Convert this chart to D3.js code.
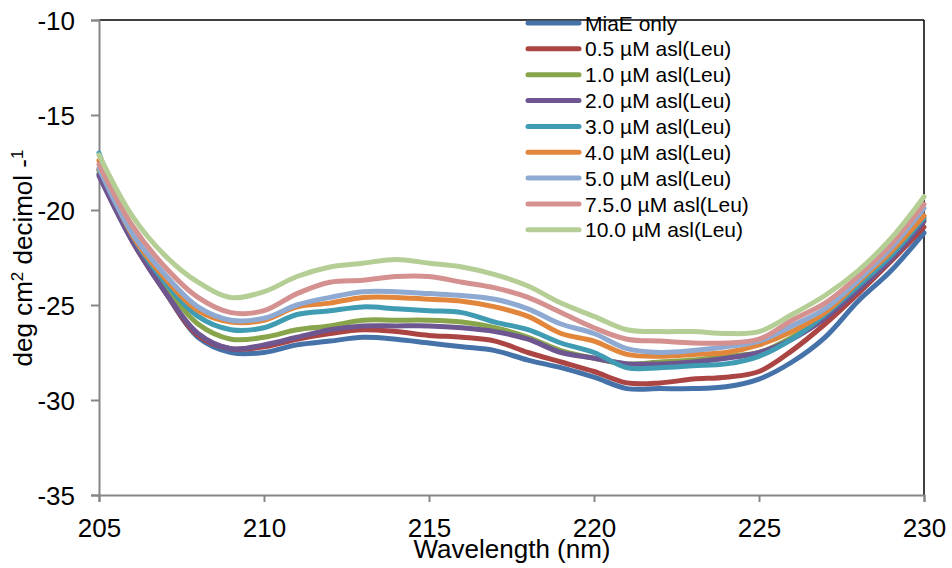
<!DOCTYPE html>
<html>
<head>
<meta charset="utf-8">
<script src="https://cdn.jsdelivr.net/npm/d3@7"></script>
<style>
  html, body { margin: 0; padding: 0; background: #fff; }
  svg { display: block; font-family: "Liberation Sans", Arial, sans-serif; }
</style>
</head>
<body>
<svg id="chart" width="952" height="568"></svg>
<script>
// ---- data ----
const wavelengths = [205,206,207,208,209,210,211,212,213,214,215,216,217,218,219,220,221,222,223,224,225,226,227,228,229,230];
const seriesNames = ["MiaE only","0.5 µM asl(Leu)","1.0 µM asl(Leu)","2.0 µM asl(Leu)","3.0 µM asl(Leu)","4.0 µM asl(Leu)","5.0 µM asl(Leu)","7.5.0 µM asl(Leu)","10.0 µM asl(Leu)"];
const seriesColors = ["#4672aa","#ab4543","#88a54b","#6e5691","#3f9cb2","#e2863b","#8eaad2","#d59190","#b5ce95"];
const miaeOnly = [-18.1,-21.6,-24.3,-26.7,-27.5,-27.5,-27.1,-26.9,-26.7,-26.8,-27.0,-27.2,-27.4,-27.9,-28.3,-28.8,-29.4,-29.4,-29.4,-29.3,-28.9,-28.0,-26.7,-24.8,-23.2,-21.2];
const leu05 = [-17.9,-21.6,-24.3,-26.6,-27.3,-27.2,-26.8,-26.5,-26.3,-26.4,-26.6,-26.7,-26.9,-27.5,-28.0,-28.5,-29.1,-29.1,-28.9,-28.8,-28.5,-27.4,-26.0,-24.4,-22.7,-20.9];
const leu10 = [-17.9,-21.5,-24.0,-26.0,-26.8,-26.7,-26.3,-26.1,-25.8,-25.8,-25.8,-25.9,-26.2,-26.7,-27.4,-27.8,-28.1,-28.0,-27.9,-27.7,-27.5,-26.7,-25.6,-24.1,-22.5,-20.5];
const leu20 = [-18.2,-21.6,-24.3,-26.5,-27.3,-27.1,-26.7,-26.3,-26.1,-26.1,-26.1,-26.2,-26.4,-26.8,-27.5,-27.8,-28.1,-28.1,-28.0,-27.8,-27.5,-26.8,-25.7,-24.2,-22.6,-20.6];
const leu30 = [-17.0,-21.3,-23.8,-25.6,-26.3,-26.2,-25.5,-25.3,-25.1,-25.2,-25.3,-25.4,-25.9,-26.3,-27.0,-27.5,-28.3,-28.3,-28.2,-28.1,-27.7,-26.8,-25.5,-24.0,-22.4,-20.4];
const leu40 = [-17.4,-21.3,-23.6,-25.3,-25.9,-25.8,-25.1,-24.9,-24.6,-24.6,-24.7,-24.8,-25.1,-25.6,-26.5,-26.9,-27.6,-27.7,-27.6,-27.5,-27.1,-26.4,-25.4,-23.8,-22.2,-20.3];
const leu50 = [-17.8,-21.2,-23.4,-25.1,-25.8,-25.7,-25.0,-24.6,-24.3,-24.3,-24.4,-24.5,-24.7,-25.2,-26.0,-26.5,-27.3,-27.5,-27.4,-27.2,-26.9,-26.1,-25.2,-23.7,-22.0,-19.9];
const leu75 = [-17.6,-20.8,-23.0,-24.6,-25.4,-25.3,-24.4,-23.8,-23.7,-23.5,-23.5,-23.8,-24.1,-24.6,-25.4,-26.2,-26.8,-26.9,-27.0,-27.0,-26.8,-25.8,-24.9,-23.5,-21.8,-19.7];
const leu100 = [-17.1,-20.3,-22.4,-23.8,-24.6,-24.3,-23.5,-23.0,-22.8,-22.6,-22.8,-23.0,-23.4,-24.0,-24.9,-25.6,-26.3,-26.4,-26.4,-26.5,-26.4,-25.5,-24.5,-23.2,-21.5,-19.3];
const seriesValues = [miaeOnly, leu05, leu10, leu20, leu30, leu40, leu50, leu75, leu100];
const xTicks = [205,210,215,220,225,230];
const yTicks = [-10,-15,-20,-25,-30,-35];
const xTitle = "Wavelength (nm)";

// ---- layout ----
const svg = d3.select("#chart");
const pL = 99, pR = 924, pT = 20, pB = 495;
const x = d3.scaleLinear().domain([205, 230]).range([pL, pR]);
const y = d3.scaleLinear().domain([-35, -10]).range([pB, pT]);
const axisGray = "#868686";
const fontFam = '"Liberation Sans", Arial, sans-serif';

// top & right frame (black)
svg.append("line").attr("x1", pL).attr("x2", pR).attr("y1", pT).attr("y2", pT)
  .attr("stroke", "#000").attr("stroke-width", 1.5);
svg.append("line").attr("x1", pR).attr("x2", pR).attr("y1", pT).attr("y2", pB)
  .attr("stroke", "#000").attr("stroke-width", 1.5);

// axes
const xAxis = svg.append("g").attr("transform", `translate(0,${pB})`)
  .call(d3.axisBottom(x).tickValues(xTicks).tickSize(7).tickPadding(17).tickFormat(d => String(d)));
const yAxis = svg.append("g").attr("transform", `translate(${pL},0)`)
  .call(d3.axisLeft(y).tickValues(yTicks).tickSize(8).tickPadding(16).tickFormat(d => String(d)));
[xAxis, yAxis].forEach(g => {
  g.selectAll("path.domain").attr("stroke", axisGray).attr("stroke-width", 2);
  g.selectAll(".tick line").attr("stroke", axisGray).attr("stroke-width", 2);
  g.selectAll(".tick text").attr("fill", "#000").style("font-size", "26px")
    .style("font-family", fontFam);
});
yAxis.selectAll(".tick text").attr("dy", "0.36em");

// lines
const line = d3.line().x((d, i) => x(wavelengths[i])).y(d => y(d)).curve(d3.curveCatmullRom.alpha(0.5));
svg.append("g").selectAll("path").data(seriesValues).join("path")
  .attr("d", d => line(d))
  .attr("fill", "none")
  .attr("stroke", (d, i) => seriesColors[i])
  .attr("stroke-width", 5)
  .attr("stroke-linejoin", "round")
  .attr("stroke-linecap", "round");

// legend
const lg = svg.append("g");
seriesNames.forEach((name, i) => {
  const cy = 23 + i * 25.85;
  lg.append("line").attr("x1", 528).attr("x2", 579).attr("y1", cy).attr("y2", cy)
    .attr("stroke", seriesColors[i]).attr("stroke-width", 5).attr("stroke-linecap", "round");
  lg.append("text").attr("x", 585).attr("y", cy).attr("dy", "0.36em")
    .style("font-size", "21px").attr("fill", "#000").text(name);
});

// axis titles
svg.append("text").attr("x", 512).attr("y", 558)
  .attr("text-anchor", "middle").style("font-size", "26px").text(xTitle);
const yt = svg.append("text").attr("transform", "translate(32,258) rotate(-90)")
  .attr("text-anchor", "middle").style("font-size", "26px");
yt.append("tspan").text("deg cm");
yt.append("tspan").attr("baseline-shift", "super").style("font-size", "17px").text("2");
yt.append("tspan").text(" decimol -");
yt.append("tspan").attr("baseline-shift", "super").style("font-size", "17px").text("1");
</script>
</body>
</html>
